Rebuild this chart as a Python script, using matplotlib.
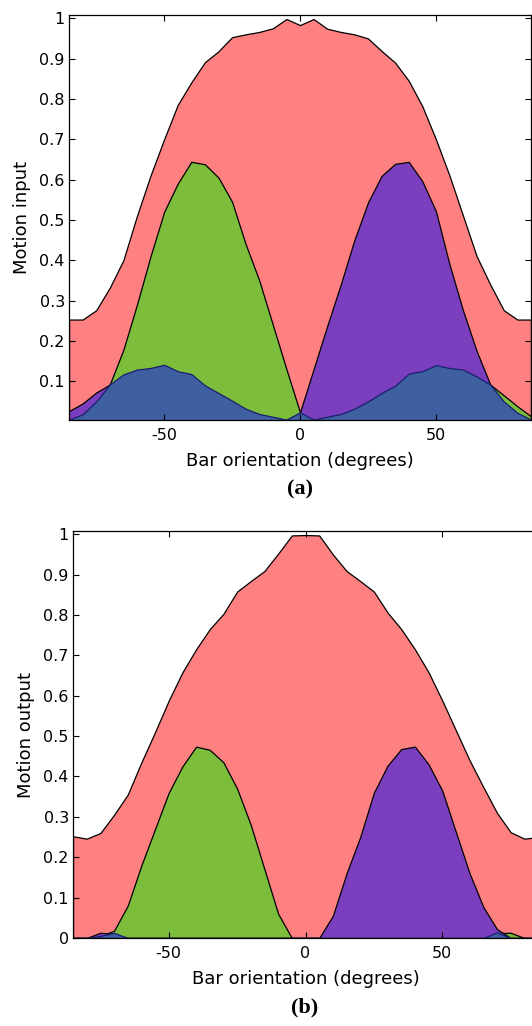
import numpy as np
import matplotlib
matplotlib.use('Agg')
import matplotlib.pyplot as plt
from matplotlib.ticker import FormatStrFormatter

plt.rcParams['font.family'] = ['DejaVu Sans']

# bar orientations (degrees)
orient = [-85, -80, -75, -70, -65, -60, -55, -50, -45, -40, -35, -30, -25, -20, -15, -10, -5,
          0, 5, 10, 15, 20, 25, 30, 35, 40, 45, 50, 55, 60, 65, 70, 75, 80, 85]

# (a) motion input
red_in = [0.253, 0.253, 0.276, 0.332, 0.40, 0.51, 0.61, 0.70, 0.785, 0.841, 0.891, 0.918, 0.953,
          0.960, 0.966, 0.975, 0.998, 0.983, 0.998, 0.974, 0.966, 0.960, 0.950, 0.919, 0.890,
          0.845, 0.782, 0.700, 0.61, 0.51, 0.41, 0.340, 0.276, 0.253, 0.253]
green_in = [0.010, 0.030, 0.060, 0.092, 0.178, 0.29, 0.41, 0.52, 0.59, 0.644, 0.638, 0.605, 0.545,
            0.44, 0.35, 0.24, 0.13, 0.023, 0.010, 0.015, 0.02, 0.03, 0.04, 0.05, 0.06, 0.07,
            0.08, 0.09, 0.10, 0.10, 0.10, 0.092, 0.065, 0.038, 0.013]
purple_in = [0.026, 0.045, 0.072, 0.092, 0.06, 0.04, 0.03, 0.02, 0.015, 0.01, 0.008, 0.005, 0.003,
             0.002, 0.001, 0.001, 0.0, 0.023, 0.13, 0.237, 0.34, 0.45, 0.543, 0.609, 0.639,
             0.644, 0.596, 0.522, 0.39, 0.275, 0.175, 0.092, 0.03, 0.01, 0.002]
blue_in = [0.005, 0.018, 0.050, 0.092, 0.117, 0.129, 0.133, 0.141, 0.125, 0.118, 0.090, 0.071, 0.052,
           0.032, 0.019, 0.012, 0.005, 0.023, 0.005, 0.012, 0.019, 0.032, 0.050, 0.071, 0.089,
           0.119, 0.125, 0.140, 0.133, 0.129, 0.112, 0.092, 0.050, 0.022, 0.005]

# (b) motion output
red_out = [0.252, 0.246, 0.260, 0.305, 0.355, 0.435, 0.51, 0.588, 0.658, 0.715, 0.765, 0.803, 0.858,
           0.884, 0.909, 0.952, 0.997, 0.998, 0.997, 0.950, 0.909, 0.884, 0.858, 0.806, 0.765,
           0.715, 0.658, 0.588, 0.514, 0.440, 0.374, 0.310, 0.262, 0.246, 0.250]
green_out = [0, 0, 0.005, 0.018, 0.08, 0.18, 0.27, 0.36, 0.425, 0.474, 0.466, 0.435, 0.37,
             0.28, 0.17, 0.06, 0, 0, 0, 0, 0, 0, 0, 0, 0,
             0, 0, 0, 0, 0, 0, 0.012, 0.013, 0, 0]
purple_out = [0, 0, 0.013, 0.010, 0, 0, 0, 0, 0, 0, 0, 0, 0,
              0, 0, 0, 0, 0, 0, 0.055, 0.16, 0.25, 0.36, 0.427, 0.468,
              0.474, 0.43, 0.365, 0.262, 0.16, 0.077, 0.022, 0, 0, 0]
blue_out = [0, 0, 0.005, 0.013, 0, 0, 0, 0, 0, 0, 0, 0, 0,
            0, 0, 0, 0, 0, 0, 0, 0, 0, 0, 0, 0,
            0, 0, 0, 0, 0, 0, 0.014, 0, 0, 0]

RED = '#ff8080'
GREEN = '#7cbd3c'
PURPLE = '#7b3ebe'
BLUE = '#3e5fa0'


def draw(ax, series, ylabel, ymin, yticks):
    x = np.array(orient)
    for y, fc, ec in series:
        ax.fill_between(x, 0, y, facecolor=fc, edgecolor=ec, linewidth=0.9)
    ax.set_xlim(-85, 85)
    ax.set_ylim(ymin, 1.008)
    ax.set_xticks([-50, 0, 50])
    ax.set_xticklabels(['-50', '0', '50'])
    ax.set_yticks(yticks)
    ax.yaxis.set_major_formatter(FormatStrFormatter('%g'))
    ax.tick_params(direction='in', length=4, width=0.8, top=True, right=True, labelsize=11.5)
    ax.tick_params(axis='x', pad=5.5)
    ax.tick_params(axis='y', pad=3)
    for s in ax.spines.values():
        s.set_linewidth(0.9)
    ax.set_xlabel('Bar orientation (degrees)', fontsize=13, labelpad=7)
    ax.set_ylabel(ylabel, fontsize=13, labelpad=6)


fig = plt.figure(figsize=(5.32, 10.26), dpi=100)

ax1 = fig.add_axes([69 / 532, (1026 - 420) / 1026, 462 / 532, 405 / 1026])
draw(ax1, [(red_in, RED, 'k'), (green_in, GREEN, 'k'), (purple_in, PURPLE, 'k'),
           (blue_in, BLUE, '#1a1f6e')],
     'Motion input', 0.004, np.arange(1, 11) / 10)

ax2 = fig.add_axes([73 / 532, (1026 - 938) / 1026, 465 / 532, 407 / 1026])
draw(ax2, [(red_out, RED, 'k'), (green_out, GREEN, 'k'), (purple_out, PURPLE, 'k'),
           (blue_out, BLUE, '#1a1f6e')],
     'Motion output', 0.0, np.arange(0, 11) / 10)

fig.text(300 / 532, 1 - 489 / 1026, '(a)', ha='center', va='center', fontsize=16,
         fontweight='bold', family=['Liberation Serif', 'DejaVu Serif'])
fig.text(305 / 532, 1 - 1007 / 1026, '(b)', ha='center', va='center', fontsize=16,
         fontweight='bold', family=['Liberation Serif', 'DejaVu Serif'])

fig.savefig('out.png', dpi=100)
